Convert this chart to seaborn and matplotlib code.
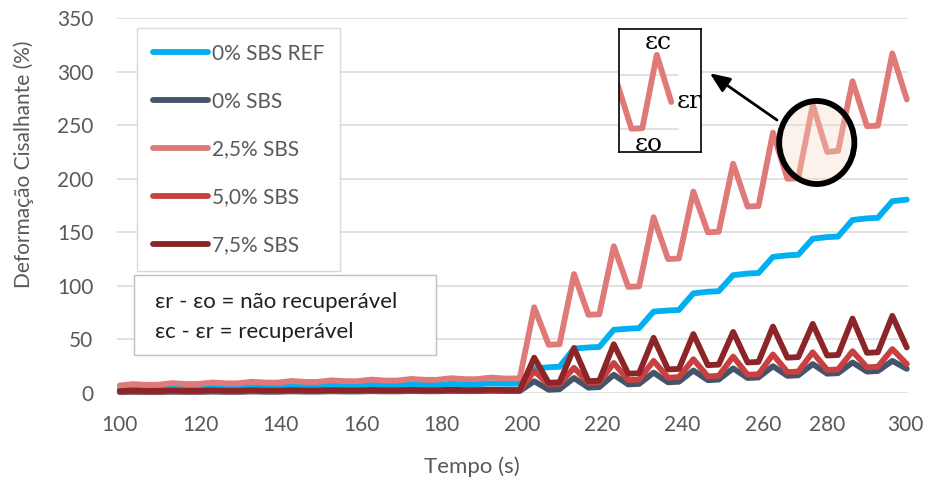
import numpy as np
import pandas as pd
import matplotlib
matplotlib.use("Agg")
import matplotlib.pyplot as plt
import seaborn as sns
from matplotlib.patches import Ellipse, Rectangle

# ---------------- data ----------------
tempo = [100.0, 103.2, 106.8, 109.5, 113.1, 116.7, 119.4, 123.0, 126.6,
         129.3, 132.9, 136.5, 139.2, 142.8, 146.4, 149.1, 152.7, 156.3,
         159.0, 162.6, 166.2, 168.9, 172.5, 176.1, 178.8, 182.4, 186.0,
         188.7, 192.3, 195.9, 199.5, 203.1, 206.7, 209.4, 213.0, 216.6,
         219.3, 222.9, 226.5, 229.2, 232.8, 236.4, 239.1, 242.7, 246.3,
         249.0, 252.6, 256.2, 258.9, 262.5, 266.1, 268.8, 272.4, 276.0,
         278.7, 282.3, 285.9, 288.6, 292.2, 295.8]

sbs0_ref = [3.5, 4.3, 4.0, 4.0, 4.9, 4.5, 4.5, 5.4, 5.1, 5.1, 6.0, 5.6,
            5.6, 6.5, 6.1, 6.1, 7.0, 6.6, 6.6, 7.5, 7.1, 7.1, 8.0, 7.6,
            7.6, 8.5, 8.1, 8.1, 9.0, 8.6,
            8.8, 23.0, 24.0, 24.5, 41.5, 42.5, 43.0, 59.0, 60.0,
            60.5, 76.0, 77.0, 77.5, 93.0, 94.5, 95.0, 110.0, 111.5,
            112.0, 127.0, 128.5, 129.0, 144.0, 145.5, 146.0, 161.5, 163.0,
            163.5, 179.0, 180.5]

sbs0 = [0.8, 1.1, 0.9, 0.9, 1.2, 1.0, 1.0, 1.3, 1.1, 1.1, 1.4, 1.2,
        1.2, 1.5, 1.3, 1.3, 1.6, 1.4, 1.4, 1.7, 1.5, 1.5, 1.8, 1.6,
        1.6, 1.9, 1.7, 1.7, 2.0, 1.8,
        1.8, 11.0, 3.0, 3.5, 14.0, 5.0, 5.5, 17.0, 8.0,
        8.5, 19.0, 10.0, 10.5, 21.0, 12.0, 12.5, 23.0, 14.0,
        14.5, 25.0, 16.0, 16.5, 27.0, 18.0, 18.5, 28.5, 20.0,
        20.5, 30.0, 22.5]

sbs25 = [7.0, 8.3, 7.6, 7.7, 9.2, 8.3, 8.4, 9.8, 9.0, 9.0, 10.5, 9.7,
         9.7, 11.2, 10.3, 10.3, 11.8, 11.0, 11.0, 12.5, 11.6, 11.6, 13.1, 12.3,
         12.3, 13.8, 12.9, 12.9, 14.4, 13.5,
         13.6, 80.0, 45.0, 45.5, 111.0, 73.0, 73.5, 137.0, 99.0,
         99.5, 164.0, 125.0, 125.5, 188.0, 150.0, 150.5, 214.0, 174.0,
         174.5, 243.0, 200.0, 200.5, 269.0, 225.0, 226.0, 291.0, 249.0,
         249.5, 317.0, 274.0]

sbs50 = [1.2, 1.6, 1.3, 1.3, 1.7, 1.4, 1.4, 1.8, 1.5, 1.5, 1.9, 1.6,
         1.6, 2.0, 1.7, 1.7, 2.1, 1.8, 1.8, 2.2, 1.9, 1.9, 2.3, 2.0,
         2.0, 2.4, 2.1, 2.1, 2.5, 2.2,
         2.3, 20.5, 8.0, 8.5, 23.5, 9.5, 10.0, 28.0, 12.0,
         12.5, 30.0, 14.3, 14.8, 31.5, 15.5, 16.0, 34.0, 17.0,
         17.5, 36.0, 19.5, 20.0, 38.0, 21.5, 22.0, 39.0, 24.0,
         24.5, 41.0, 27.0]

sbs75 = [1.8, 2.2, 1.9, 1.9, 2.3, 2.0, 2.0, 2.4, 2.1, 2.1, 2.5, 2.2,
         2.2, 2.6, 2.3, 2.3, 2.7, 2.4, 2.4, 2.8, 2.5, 2.5, 2.9, 2.6,
         2.6, 3.0, 2.7, 2.7, 3.1, 2.8,
         2.8, 33.0, 9.5, 10.0, 42.0, 11.0, 11.5, 45.5, 18.0,
         18.5, 51.5, 22.0, 22.5, 55.0, 26.0, 26.5, 57.0, 28.5,
         29.0, 62.0, 33.0, 33.5, 64.5, 35.0, 35.5, 69.5, 37.5,
         38.0, 72.0, 42.5]

series_names = ["0% SBS REF", "0% SBS", "2,5% SBS", "5,0% SBS", "7,5% SBS"]
series_values = [sbs0_ref, sbs0, sbs25, sbs50, sbs75]
colors = ["#00B0F0", "#44546A", "#DF7A78", "#C94040", "#8B2527"]

# category-style label positions (as laid out on the original axis)
x_tick_pos = [100, 120, 140, 160, 180, 200, 220, 240, 260, 276, 295.5]
x_tick_labels = ["100", "120", "140", "160", "180", "200", "220", "240",
                 "260", "280", "300"]
y_ticks = [0, 50, 100, 150, 200, 250, 300, 350]

note_lines = ["εr - εo = não recuperável", "εc - εr = recuperável"]

# ---------------- style ----------------
sns.set_style("white")
plt.rcParams["font.family"] = ["Lato", "Noto Sans", "DejaVu Sans"]
grey_txt = "#595959"
grid_col = "#D9D9D9"
LW = 4.2

W, H = 928, 487
fig = plt.figure(figsize=(W / 100, H / 100), dpi=100)
ax = fig.add_axes([117 / W, 94 / H, 791 / W, 375 / H])

df = pd.concat([pd.DataFrame({"Tempo": tempo, "Valor": v, "Serie": n})
                for n, v in zip(series_names, series_values)],
               ignore_index=True)

sns.lineplot(data=df, x="Tempo", y="Valor", hue="Serie",
             hue_order=series_names, palette=colors, estimator=None,
             sort=False, linewidth=LW, ax=ax)
for ln in ax.lines:
    ln.set_solid_joinstyle("round")
    ln.set_solid_capstyle("round")
    ln.set_clip_on(False)

ax.set_xlim(99.3, 296.1)
ax.set_ylim(0, 350)
ax.set_yticks(y_ticks)
ax.set_xticks(x_tick_pos)
ax.set_xticklabels(x_tick_labels)
ax.tick_params(axis="both", length=0, labelsize=15, labelcolor=grey_txt)
ax.tick_params(axis="y", pad=17)
ax.tick_params(axis="x", pad=16)
ax.yaxis.grid(True, color=grid_col, lw=1.1)
ax.xaxis.grid(False)
ax.set_axisbelow(True)
for s in ax.spines.values():
    s.set_visible(False)
ax.set_xlabel("")
ax.set_ylabel("")

fig.text(24 / W, 1 - 164 / H, "Deformação Cisalhante (%)", rotation=90,
         ha="center", va="center", fontsize=15, color=grey_txt)
fig.text(472 / W, 1 - 467 / H, "Tempo (s)", ha="center", va="center",
         fontsize=16, color=grey_txt)

# legend
handles, labels = ax.get_legend_handles_labels()
leg = ax.legend(handles, labels, loc="upper left",
                bbox_to_anchor=(137 / W, 1 - 28 / H),
                bbox_transform=fig.transFigure, borderaxespad=0,
                frameon=True, fancybox=False, edgecolor=grid_col,
                framealpha=1, fontsize=15, labelcolor=grey_txt,
                handlelength=2.65, handletextpad=0.2, labelspacing=1.34,
                borderpad=0.75)
leg.get_frame().set_linewidth(1.0)
for ln in leg.get_lines():
    ln.set_solid_capstyle("round")
    ln.set_linewidth(LW)
leg.set_zorder(10)

# note box
fig.patches.append(Rectangle((134 / W, 1 - 355 / H), 302 / W, 80 / H,
                             transform=fig.transFigure, facecolor="white",
                             edgecolor="#BFBFBF", lw=1.0, zorder=5))
fig.text(155 / W, 1 - 301.5 / H, note_lines[0], ha="left", va="center",
         fontsize=16, color="#202020", zorder=6)
fig.text(155 / W, 1 - 331.5 / H, note_lines[1], ha="left", va="center",
         fontsize=16, color="#202020", zorder=6)

# highlight circle + arrow
ax.add_patch(Ellipse((273.4, 233.8), 18.7, 77.5, facecolor="#F5DEC6",
                     alpha=0.35, edgecolor="none", zorder=4))
ax.add_patch(Ellipse((273.4, 233.8), 18.7, 77.5, facecolor="none",
                     edgecolor="black", lw=4.2, zorder=5))
ax.annotate("", xy=(246.8, 298.4), xytext=(263.5, 254.8),
            arrowprops=dict(arrowstyle="-|>,head_length=1.2,head_width=0.5",
                            mutation_scale=10, lw=2.0, color="black",
                            shrinkA=0, shrinkB=0), zorder=6)

# inset zoom of one cycle
axi = fig.add_axes([619 / W, 1 - 152 / H, 82 / W, 123 / H])
axi.set_facecolor("white")
sub = df[(df["Serie"] == "2,5% SBS") & (df["Tempo"] >= 258) & (df["Tempo"] <= 276.5)]
sns.lineplot(data=sub, x="Tempo", y="Valor", color=colors[2], estimator=None,
             sort=False, linewidth=LW, ax=axi, legend=False)
for ln in axi.lines:
    ln.set_solid_joinstyle("round")
    ln.set_solid_capstyle("round")
axi.set_xlim(263.0, 283.4)
axi.set_ylim(178.3, 293.1)
for t in y_ticks:
    if 178.3 < t < 293.1:
        axi.axhline(t, xmin=0, xmax=0.72, color=grid_col, lw=1.1, zorder=0)
axi.set_xticks([])
axi.set_yticks([])
axi.set_xlabel("")
axi.set_ylabel("")
for s in axi.spines.values():
    s.set_visible(True)
    s.set_color("black")
    s.set_linewidth(1.2)
axi.text(0.48, 0.89, "εc", transform=axi.transAxes, ha="center",
         va="center", fontsize=18, family="DejaVu Serif", color="black")
axi.text(0.86, 0.41, "εr", transform=axi.transAxes, ha="center",
         va="center", fontsize=18, family="DejaVu Serif", color="black")
axi.text(0.36, 0.06, "εo", transform=axi.transAxes, ha="center",
         va="center", fontsize=18, family="DejaVu Serif", color="black")

fig.savefig("out.png", dpi=100)
